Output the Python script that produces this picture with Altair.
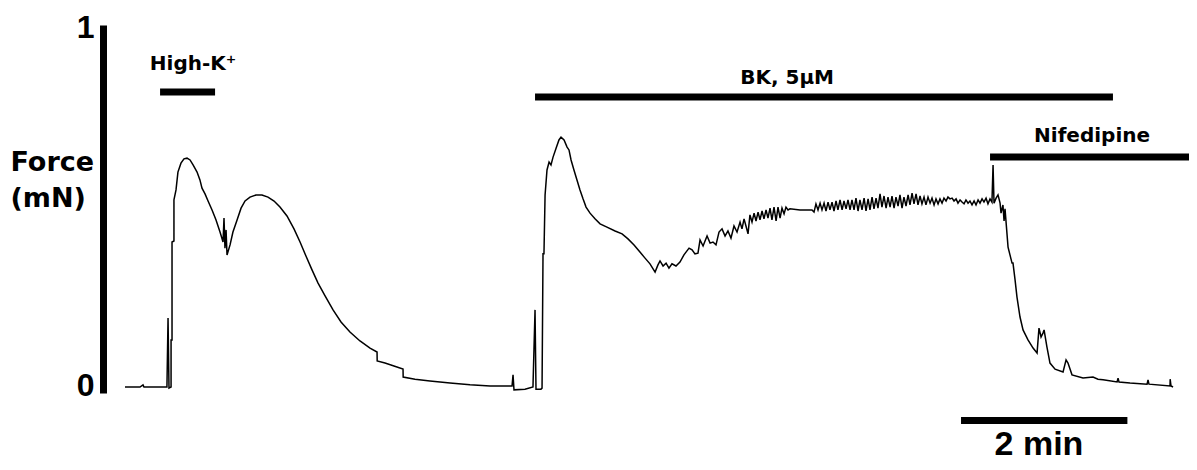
import altair as alt
import pandas as pd

# ---- force trace (time in s, force in mN) ----
# segment 1: baseline and High-K+ response
seg1_t = [0, 10.9, 13.1, 13.8, 30.5, 31.3, 32.0, 33.5, 33.5, 34.2, 34.2, 35.6, 35.6, 37.1, 38.5, 40.7,
          42.9, 45.1, 47.3, 49.5, 52.4, 54.5, 56.0, 58.2, 60.4, 63.3, 66.2, 69.1, 71.3, 72.0, 72.7,
          73.5, 74.2, 76.4, 78.5, 81.5, 84.4, 87.3, 90.9, 95.3, 99.6, 104.0, 108.4, 112.7, 117.8,
          122.9, 127.3, 131.6, 136.0, 140.4, 145.5, 151.3, 157.1, 163.6, 170.9, 178.2, 183.3, 183.4,
          189.1, 195.6, 202.2, 202.3, 210.9, 221.8, 236.4, 250.9, 265.5, 281.5, 282.2, 282.9, 290.9,
          296.7, 298.2, 298.9, 302.5]
seg1_f = [0, 0, 0.006, 0, 0, 0.193, -0.003, 0, 0.132, 0.132, 0.406, 0.409, 0.524, 0.552, 0.602, 0.627,
          0.639, 0.641, 0.636, 0.622, 0.602, 0.580, 0.557, 0.541, 0.521, 0.496, 0.468, 0.434, 0.406, 0.473, 0.389,
          0.440, 0.370, 0.398, 0.434, 0.468, 0.501, 0.521, 0.532, 0.538, 0.538, 0.532, 0.521, 0.504, 0.479,
          0.443, 0.406, 0.367, 0.328, 0.291, 0.255, 0.216, 0.182, 0.154, 0.129, 0.109, 0.098, 0.073,
          0.067, 0.059, 0.050, 0.028, 0.022, 0.017, 0.011, 0.006, 0.003, 0.003, 0.034, -0.008, -0.006,
          0, 0.216, -0.006, -0.006]

# segment 2: BK transient
seg2_t = [303.3, 304.0, 304.7, 305.5, 306.9, 308.4, 309.8, 311.3, 313.5, 315.6, 317.1, 319.3, 321.5,
          322.9, 324.4, 326.5, 328.7, 330.9, 333.1, 335.3, 338.2, 341.8, 345.5, 350.5, 356.4, 361.5,
          365.8, 370.2, 374.5, 378.2, 381.8, 385.5, 387.6, 389.1, 391.3, 393.5, 395.6, 397.8, 400.7,
          403.6, 406.5, 410.2, 412.4, 414.5, 416.7]
seg2_f = [-0.003, 0.373, 0.373, 0.538, 0.608, 0.630, 0.622, 0.644, 0.669, 0.692, 0.700, 0.692, 0.672,
          0.664, 0.636, 0.608, 0.580, 0.552, 0.527, 0.504, 0.487, 0.471, 0.457, 0.448, 0.437, 0.429,
          0.415, 0.398, 0.378, 0.361, 0.345, 0.322, 0.342, 0.353, 0.339, 0.347, 0.333, 0.345, 0.339,
          0.350, 0.370, 0.389, 0.384, 0.373, 0.375]

# segment 3: oscillating plateau in BK
seg3_t = [418.2, 420.4, 423.3, 425.5, 427.6, 429.8, 432.0, 434.2, 436.4, 438.5, 440.7, 442.9, 445.1,
          447.3, 448.7, 450.2, 451.6, 453.1, 454.5, 456.0, 457.5, 458.9, 460.4, 461.8, 463.3, 464.7,
          466.2, 467.6, 469.1, 470.5, 472.0, 473.5, 474.9, 476.4, 477.8, 479.3, 480.7, 482.2, 483.6,
          490.9, 499.6, 501.1, 502.5, 504.0, 505.5, 506.9, 508.4, 509.8, 511.3, 512.7, 514.2, 515.6,
          517.1, 518.5, 520.0, 521.5, 522.9, 524.4, 525.8, 527.3, 528.7, 530.2, 531.6, 533.1, 534.5,
          536.0, 537.5, 538.9, 540.4, 541.8, 543.3, 544.7, 546.2, 547.6, 549.1, 550.5, 552.0, 553.5,
          554.9, 556.4, 557.8, 559.3, 560.7, 562.2, 563.6, 565.1, 566.5, 568.0, 569.5, 570.9, 572.4,
          573.8, 575.3, 576.7, 578.2, 579.6, 581.1, 582.5, 584.0, 585.5, 586.9, 588.4, 589.8, 591.3,
          592.7, 594.2, 595.6, 597.1, 598.5, 600.0, 601.5, 602.9, 604.4, 605.8, 607.3, 608.7, 610.2,
          611.6, 613.1, 614.5, 616.0, 617.5, 618.9, 620.4, 621.8, 623.3, 624.7, 626.2, 627.6, 629.1,
          630.5]
seg3_f = [0.412, 0.395, 0.423, 0.403, 0.406, 0.398, 0.434, 0.443, 0.423, 0.437, 0.417, 0.451, 0.434,
          0.462, 0.443, 0.471, 0.451, 0.429, 0.482, 0.462, 0.487, 0.465, 0.490, 0.468, 0.493, 0.471,
          0.496, 0.473, 0.501, 0.468, 0.504, 0.465, 0.504, 0.473, 0.501, 0.485, 0.504, 0.496, 0.499,
          0.496, 0.496, 0.490, 0.513, 0.496, 0.515, 0.496, 0.515, 0.493, 0.518, 0.496, 0.518, 0.493,
          0.521, 0.496, 0.524, 0.496, 0.521, 0.499, 0.524, 0.496, 0.524, 0.496, 0.529, 0.493, 0.524,
          0.496, 0.529, 0.493, 0.527, 0.496, 0.532, 0.499, 0.529, 0.501, 0.541, 0.504, 0.535, 0.501,
          0.532, 0.504, 0.535, 0.501, 0.532, 0.507, 0.538, 0.501, 0.532, 0.507, 0.538, 0.510, 0.543,
          0.513, 0.541, 0.510, 0.535, 0.513, 0.532, 0.510, 0.532, 0.515, 0.529, 0.510, 0.527, 0.513,
          0.527, 0.515, 0.529, 0.521, 0.532, 0.527, 0.529, 0.521, 0.527, 0.515, 0.524, 0.518, 0.513,
          0.524, 0.515, 0.521, 0.510, 0.521, 0.510, 0.524, 0.515, 0.527, 0.518, 0.529, 0.513, 0.527,
          0.518]

# segment 4: nifedipine relaxation
seg4_t = [631.3, 632.0, 633.5, 634.9, 636.4, 637.1, 638.5, 639.3, 640.0, 642.2, 643.6, 645.1, 645.8,
          647.3, 648.7, 650.9, 653.1, 656.7, 660.4, 663.3, 664.7, 666.2, 667.6, 668.4, 670.5, 672.7,
          676.4, 682.2, 684.4, 685.8, 688.7, 696.7, 704.0, 707.6, 711.3, 721.5, 722.2, 722.9, 730.9,
          743.3, 744.0, 744.7, 760.0, 760.1, 760.7, 762.2]
seg4_f = [0.622, 0.515, 0.529, 0.538, 0.515, 0.487, 0.510, 0.465, 0.499, 0.392, 0.370, 0.347, 0.347,
          0.300, 0.252, 0.196, 0.160, 0.132, 0.109, 0.095, 0.165, 0.140, 0.151, 0.160, 0.112, 0.067,
          0.050, 0.042, 0.076, 0.067, 0.034, 0.025, 0.028, 0.022, 0.020, 0.014, 0.025, 0.014, 0.011,
          0.008, 0.020, 0.008, 0.003, 0.022, 0.003, 0.0]

trace_t = seg1_t + seg2_t + seg3_t + seg4_t
trace_f = seg1_f + seg2_f + seg3_f + seg4_f
trace = pd.DataFrame({"i": list(range(len(trace_t))), "t": trace_t, "f": trace_f})

# ---- treatment bars and scale bar ----
bar_names = ["High-K+", "BK", "Nifedipine", "scale"]
bar_start = [25.5, 298.2, 629.1, 608.0]
bar_end = [65.5, 718.5, 780.0, 729.0]
bar_level = [0.826, 0.812, 0.644, -0.094]
bars = pd.DataFrame({"name": bar_names, "t1": bar_start, "t2": bar_end, "f": bar_level})

# ---- annotation texts ----
small_text = ["High-K\u207a", "BK, 5\u00b5M", "Nifedipine"]
small_x = [49.5, 481.5, 703.3]
small_y = [0.887, 0.849, 0.686]
small = pd.DataFrame({"label": small_text, "t": small_x, "f": small_y})

scale_text = ["2 min"]
scale_x = [664.7]
scale_y = [-0.190]
scale_lab = pd.DataFrame({"label": scale_text, "t": scale_x, "f": scale_y})

xs = alt.Scale(domain=[-16, 773.8], nice=False, zero=False)
ys = alt.Scale(domain=[-0.0168, 1.014], nice=False, zero=False)

y_axis = alt.Axis(
    values=[0, 1], format="d",
    title=["Force", "(mN)"], titleAngle=0, titleAlign="left", titleBaseline="alphabetic",
    titleX=-93, titleY=145, titleFont="DejaVu Sans", titleFontSize=27,
    titleFontWeight="bold", titleLineHeight=36, titleColor="black",
    labelFont="Liberation Sans", labelFontSize=32, labelFontWeight="bold", labelColor="black",
    labelPadding=9, labelOffset=-2, ticks=False, tickSize=0, grid=False,
    domainWidth=7, domainColor="black", labelFlush=False)

line = alt.Chart(trace).mark_line(color="black", strokeWidth=1.5).encode(
    x=alt.X("t:Q", scale=xs, axis=None),
    y=alt.Y("f:Q", scale=ys, axis=y_axis),
    order="i:Q",
)

bar_layer = alt.Chart(bars).mark_rule(color="black", strokeWidth=7).encode(
    x=alt.X("t1:Q", scale=xs, axis=None), x2="t2:Q",
    y=alt.Y("f:Q", scale=ys, axis=y_axis)
)

small_layer = alt.Chart(small).mark_text(
    font="DejaVu Sans", fontSize=20, fontWeight="bold", color="black",
    align="center", baseline="alphabetic"
).encode(x=alt.X("t:Q", scale=xs, axis=None), y=alt.Y("f:Q", scale=ys, axis=y_axis), text="label:N")

scale_layer = alt.Chart(scale_lab).mark_text(
    font="Liberation Sans", fontSize=34, fontWeight="bold", color="black",
    align="center", baseline="alphabetic"
).encode(x=alt.X("t:Q", scale=xs, axis=None), y=alt.Y("f:Q", scale=ys, axis=y_axis), text="label:N")

chart = alt.layer(line, bar_layer, small_layer, scale_layer).properties(
    width=1086, height=368,
    padding={"left": 95, "top": 17, "right": 0, "bottom": 69},
    autosize=alt.AutoSizeParams(type="none"),
    background="white",
).configure_view(strokeWidth=0, stroke="transparent")

chart.save("out.html", embed_options={"renderer": "svg", "actions": False})
